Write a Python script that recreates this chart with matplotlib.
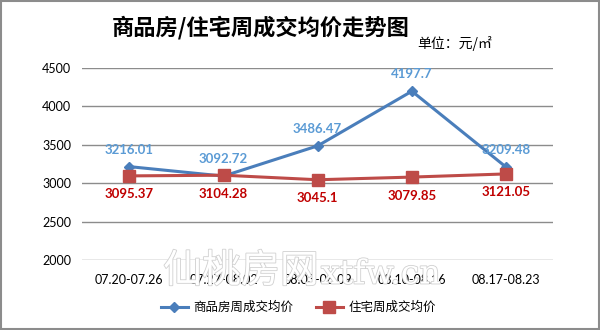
import matplotlib.pyplot as plt
import matplotlib.patheffects as pe
from matplotlib.patches import Rectangle

plt.rcParams['font.family'] = ['Lato', 'Noto Sans CJK SC', 'DejaVu Sans']

weeks = ['07.20-07.26', '07.27-08.02', '08.03-08.09', '08.10-08.16', '08.17-08.23']
spf_price = [3216.01, 3092.72, 3486.47, 4197.7, 3209.48]
zz_price = [3095.37, 3104.28, 3045.1, 3079.85, 3121.05]
spf_labels = ['3216.01', '3092.72', '3486.47', '4197.7', '3209.48']
zz_labels = ['3095.37', '3104.28', '3045.1', '3079.85', '3121.05']

fig = plt.figure(figsize=(6, 3.3), dpi=100)
ax = fig.add_axes([0.137, 0.212, 0.785, 0.582])

x = range(len(weeks))
ax.plot(x, spf_price, color='#4A7EBB', lw=2.2, marker='D', ms=5, label='商品房周成交均价', zorder=3)
ax.plot(x, zz_price, color='#BE4B48', lw=2.2, marker='s', ms=8, label='住宅周成交均价', zorder=3)

# data labels
for i in x:
    ax.annotate(spf_labels[i], (i, spf_price[i]), xytext=(0, 8), textcoords='offset points',
                ha='center', va='bottom', color='#5B9BD5', fontsize=9.5, fontweight='bold')
    ax.annotate(zz_labels[i], (i, zz_price[i]), xytext=(0, -9), textcoords='offset points',
                ha='center', va='top', color='#C00000', fontsize=9.5, fontweight='bold')

ax.set_xlim(-0.5, 4.5)
ax.set_ylim(2000, 4500)
ax.set_yticks(range(2000, 4501, 500))
ax.set_xticks(list(x))
ax.set_xticklabels(weeks)
ax.tick_params(length=0, labelsize=9, colors='#000000')
ax.tick_params(axis='x', pad=10)
ax.tick_params(axis='y', pad=8)
ax.grid(axis='y', color='#8C8C8C', lw=1)
ax.set_axisbelow(True)
for s in ax.spines.values():
    s.set_visible(False)

fig.text(0.435, 0.915, '商品房/住宅周成交均价走势图', ha='center', va='center', fontsize=16,
         fontweight='bold', family=['Noto Sans CJK SC'])
fig.text(0.695, 0.868, '单位：元/㎡', ha='left', va='center', fontsize=10,
         family=['Noto Sans CJK SC', 'DejaVu Sans'])

# watermark
fig.text(0.272, 0.178, '仙桃房网', fontsize=28, color='white', ha='left', va='center',
         family=['Noto Sans CJK SC'], zorder=0,
         path_effects=[pe.withStroke(linewidth=1.2, foreground='#D0D0D0')])
fig.text(0.535, 0.168, 'xtfw.cn', fontsize=24, color='white', ha='left', va='center',
         family=['DejaVu Serif'], zorder=0,
         path_effects=[pe.withStroke(linewidth=1.2, foreground='#D0D0D0')])

fig.legend(loc='center', bbox_to_anchor=(0.497, 0.068), ncol=2, frameon=False,
           fontsize=9, handlelength=2.2, handletextpad=0.4, columnspacing=1.8,
           prop={'family': ['Noto Sans CJK SC'], 'size': 9})

fig.patches.append(Rectangle((0.001, 0.002), 0.997, 0.995, transform=fig.transFigure,
                             fill=False, edgecolor='#8C8C8C', lw=1.5))

fig.savefig('out.png', dpi=100)
